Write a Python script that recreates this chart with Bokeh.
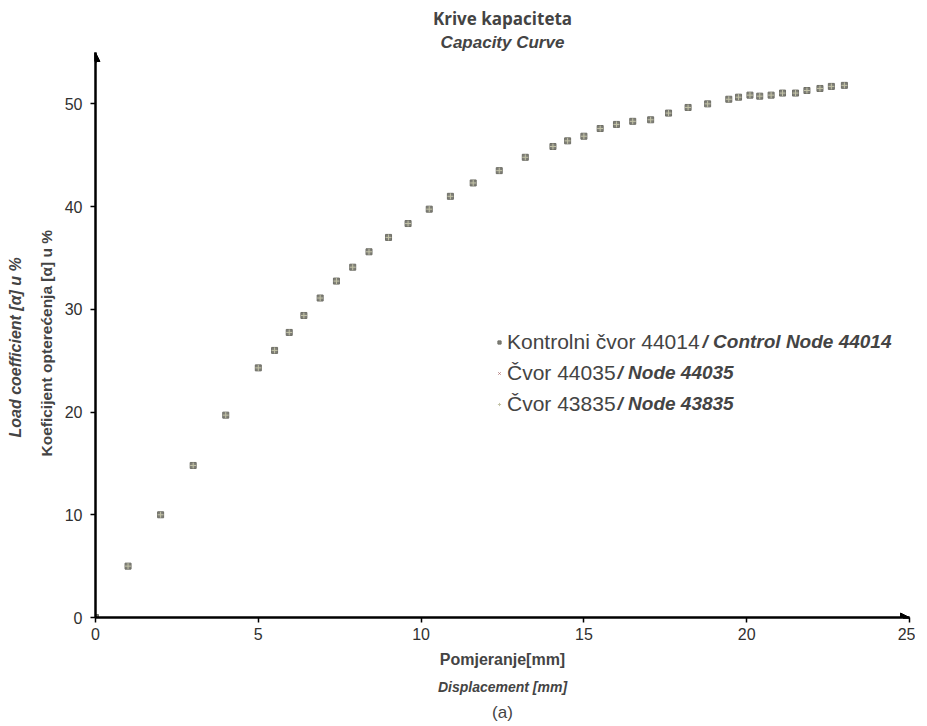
from bokeh.plotting import figure
from bokeh.models import (Range1d, FixedTicker, Title, Legend, LegendItem, Label,
                          Arrow, NormalHead)
from bokeh.embed import file_html
from bokeh.resources import INLINE

# ---- data ----
displacement = [0, 1.0, 2.0, 3.0, 4.0, 5.0, 5.5, 5.95, 6.4, 6.9, 7.4, 7.9, 8.4, 9.0,
                9.6, 10.25, 10.9, 11.6, 12.4, 13.2, 14.05, 14.5, 15.0, 15.5, 16.0,
                16.5, 17.05, 17.6, 18.2, 18.8, 19.45, 19.75, 20.1, 20.4, 20.75,
                21.1, 21.5, 21.85, 22.25, 22.6, 23.0]
load_44014 = [0, 5.0, 10.0, 14.8, 19.7, 24.3, 26.0, 27.75, 29.4, 31.1, 32.75, 34.1,
              35.6, 37.0, 38.35, 39.75, 41.0, 42.3, 43.5, 44.8, 45.85, 46.4, 46.85,
              47.6, 48.0, 48.3, 48.45, 49.1, 49.65, 50.0, 50.45, 50.65, 50.85,
              50.75, 50.85, 51.05, 51.05, 51.3, 51.5, 51.7, 51.8]
load_44035 = list(load_44014)
load_43835 = list(load_44014)

x_ticks = [0, 5, 10, 15, 20, 25]
y_ticks = [0, 10, 20, 30, 40, 50]
series_plain = ["Kontrolni čvor 44014", "Čvor 44035", "Čvor 43835"]
series_en = ["/ Control Node 44014", "/ Node 44035", "/ Node 43835"]

FONT = "Liberation Sans"

p = figure(frame_width=814, frame_height=565, output_backend="svg",
           toolbar_location=None,
           x_range=Range1d(0, 25), y_range=Range1d(0, 55),
           min_border_left=91, min_border_right=6, min_border_top=44,
           min_border_bottom=97)
p.outline_line_color = None
p.grid.visible = False
p.background_fill_color = "white"
p.border_fill_color = "white"

# p.title is the outermost item above: use it as a small spacer
p.title.text = " "
p.title.text_font_size = "2px"
p.title.standoff = 0
# titles added later sit farther from the frame
p.add_layout(Title(text="Capacity Curve", align="center", text_font=FONT,
                   text_font_style="bold italic", text_font_size="17px",
                   standoff=2), "above")
p.add_layout(Title(text="Krive kapaciteta", align="center", text_font="Open Sans",
                   text_font_style="bold", text_font_size="17px",
                   standoff=0), "above")

# axes
for ax in (p.xaxis, p.yaxis):
    ax.axis_line_width = 2.5
    ax.axis_line_color = "black"
    ax.major_tick_line_width = 1.5
    ax.major_tick_line_color = "black"
    ax.major_tick_out = 5
    ax.major_tick_in = 0
    ax.minor_tick_line_color = None
    ax.major_label_text_font = FONT
    ax.major_label_text_font_size = "16px"
    ax.major_label_text_color = "#303030"
p.xaxis.ticker = FixedTicker(ticks=x_ticks)
p.yaxis.ticker = FixedTicker(ticks=y_ticks)
p.xaxis.major_label_standoff = 5
p.yaxis.major_label_standoff = 8

p.xaxis.axis_label = "Pomjeranje[mm]"
p.xaxis.axis_label_text_font = FONT
p.xaxis.axis_label_text_font_style = "bold"
p.xaxis.axis_label_text_font_size = "16px"
p.xaxis.axis_label_standoff = 8
p.add_layout(Title(text="Displacement [mm]", align="center", text_font=FONT,
                   text_font_style="bold italic", text_font_size="14px",
                   standoff=12), "below")
p.add_layout(Title(text="(a)", align="center", text_font=FONT,
                   text_font_style="normal", text_font_size="17px",
                   standoff=0), "below")

# y-axis titles (two lines, different styles)
p.add_layout(Title(text="Koeficijent opterećenja [α] u %", align="left", offset=161,
                   text_font=FONT, text_font_style="bold", text_font_size="15.5px",
                   standoff=14), "left")
p.add_layout(Title(text="Load coefficient [α] u %", align="left", offset=180,
                   text_font=FONT, text_font_style="bold italic",
                   text_font_size="16px", standoff=9), "left")

# arrows at axis ends
p.add_layout(Arrow(end=NormalHead(size=9, fill_color="black", line_color="black"),
                   x_start=0, y_start=54, x_end=0, y_end=55, line_width=2.5))
p.add_layout(Arrow(end=NormalHead(size=9, fill_color="black", line_color="black"),
                   x_start=24.8, y_start=0, x_end=25, y_end=0, line_width=2.5))

# series
r2 = p.scatter(displacement, load_44035, marker="x", size=6, line_color="#b07878",
               line_width=1)
r1 = p.scatter(displacement, load_44014, marker="square", size=6,
               fill_color="#808078", line_color="#6e6e66")
r3 = p.scatter(displacement, load_43835, marker="cross", size=6, line_color="#c4c4a8",
               line_width=1)

legend = Legend(items=[LegendItem(label=series_plain[0], renderers=[r1]),
                       LegendItem(label=series_plain[1], renderers=[r2]),
                       LegendItem(label=series_plain[2], renderers=[r3])],
                location=(400, 201), orientation="vertical",
                glyph_width=8, glyph_height=8, label_standoff=4,
                label_height=25, spacing=6, padding=0, margin=0,
                label_text_font=FONT, label_text_font_size="21px",
                background_fill_alpha=0, border_line_color=None)
p.add_layout(legend, "center")

en_x = [607, 522, 522]
en_y = [276, 245, 214]
for t, lx, ly in zip(series_en, en_x, en_y):
    p.add_layout(Label(x=lx, y=ly, x_units="screen", y_units="screen", text=t,
                       text_font=FONT, text_font_style="bold italic",
                       text_font_size="19px", text_baseline="middle"))

open("out.html", "w").write(file_html(p, INLINE))
